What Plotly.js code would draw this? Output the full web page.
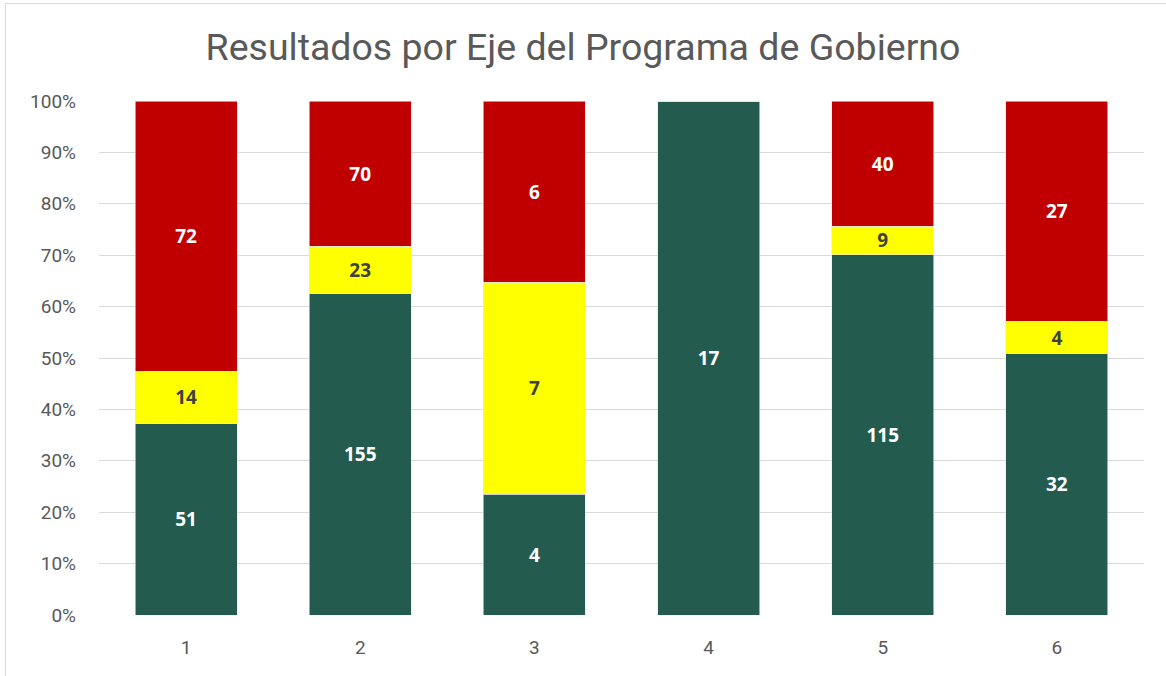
<!DOCTYPE html>
<html><head><meta charset="utf-8">
<script src="https://cdn.plot.ly/plotly-3.0.1.min.js"></script>
<style>
html,body{margin:0;padding:0;background:#fff;overflow:hidden;}
#frame{position:absolute;left:5px;top:3px;width:1200px;height:700px;border:1px solid #d9d9d9;box-sizing:border-box;pointer-events:none;}
#chart{position:absolute;left:0;top:0;width:1166px;height:676px;}
</style></head>
<body>
<div id="chart"></div>
<div id="frame"></div>
<script>
const categories = ['1','2','3','4','5','6'];
const verde = [51,155,4,17,115,32];
const amarillo = [14,23,7,0,9,4];
const rojo = [72,70,6,0,40,27];
const yTickVals = [0,10,20,30,40,50,60,70,80,90,100];
const yTickText = ['0%','10%','20%','30%','40%','50%','60%','70%','80%','90%','100%'];
const titulo = 'Resultados por Eje del Programa de Gobierno';

function lbl(arr){ return arr.map(v => v > 0 ? String(v) : ''); }

const labelFont = '"Open Sans", Roboto, sans-serif';
function mk(y, name, color, txtColor){
  return {
    type:'bar', x:categories, y:y, text:lbl(y), name:name,
    textposition:'inside', insidetextanchor:'middle', textangle:0,
    constraintext:'none', hoverinfo:'none',
    marker:{color:color, line:{color:'#e8e8e8', width:0.6}},
    insidetextfont:{family:labelFont, size:19, color:txtColor, weight:'bold'},
    textfont:{family:labelFont, size:19, color:txtColor, weight:'bold'}
  };
}
const traces = [
  mk(verde, 'Verde', '#235B4E', '#ffffff'),
  mk(amarillo, 'Amarillo', '#FFFF00', '#404040'),
  mk(rojo, 'Rojo', '#C00000', '#ffffff')
];
const layout = {
  width:1166, height:676,
  margin:{l:99, r:22, t:101, b:61},
  paper_bgcolor:'#ffffff', plot_bgcolor:'#ffffff',
  barmode:'stack', barnorm:'percent', bargap:0.414,
  showlegend:false,
  title:{text:titulo, x:0.5, xanchor:'center', y:0.93, yanchor:'middle', yref:'container',
    font:{family:'Roboto, sans-serif', size:37.5, color:'#595959'}},
  xaxis:{type:'category', tickfont:{family:'Roboto, sans-serif', size:19, color:'#595959'},
    showline:false, showgrid:false, zeroline:false, ticks:'', ticklabelstandoff:19},
  yaxis:{range:[0,100], tickmode:'array', tickvals:yTickVals, ticktext:yTickText,
    tickfont:{family:'Roboto, sans-serif', size:19, color:'#595959'},
    showgrid:true, gridcolor:'#d9d9d9', gridwidth:1, zeroline:false, showline:false,
    ticks:'', ticklabelstandoff:22}
};
Plotly.newPlot('chart', traces, layout, {displayModeBar:false, staticPlot:true});
</script>
</body></html>
